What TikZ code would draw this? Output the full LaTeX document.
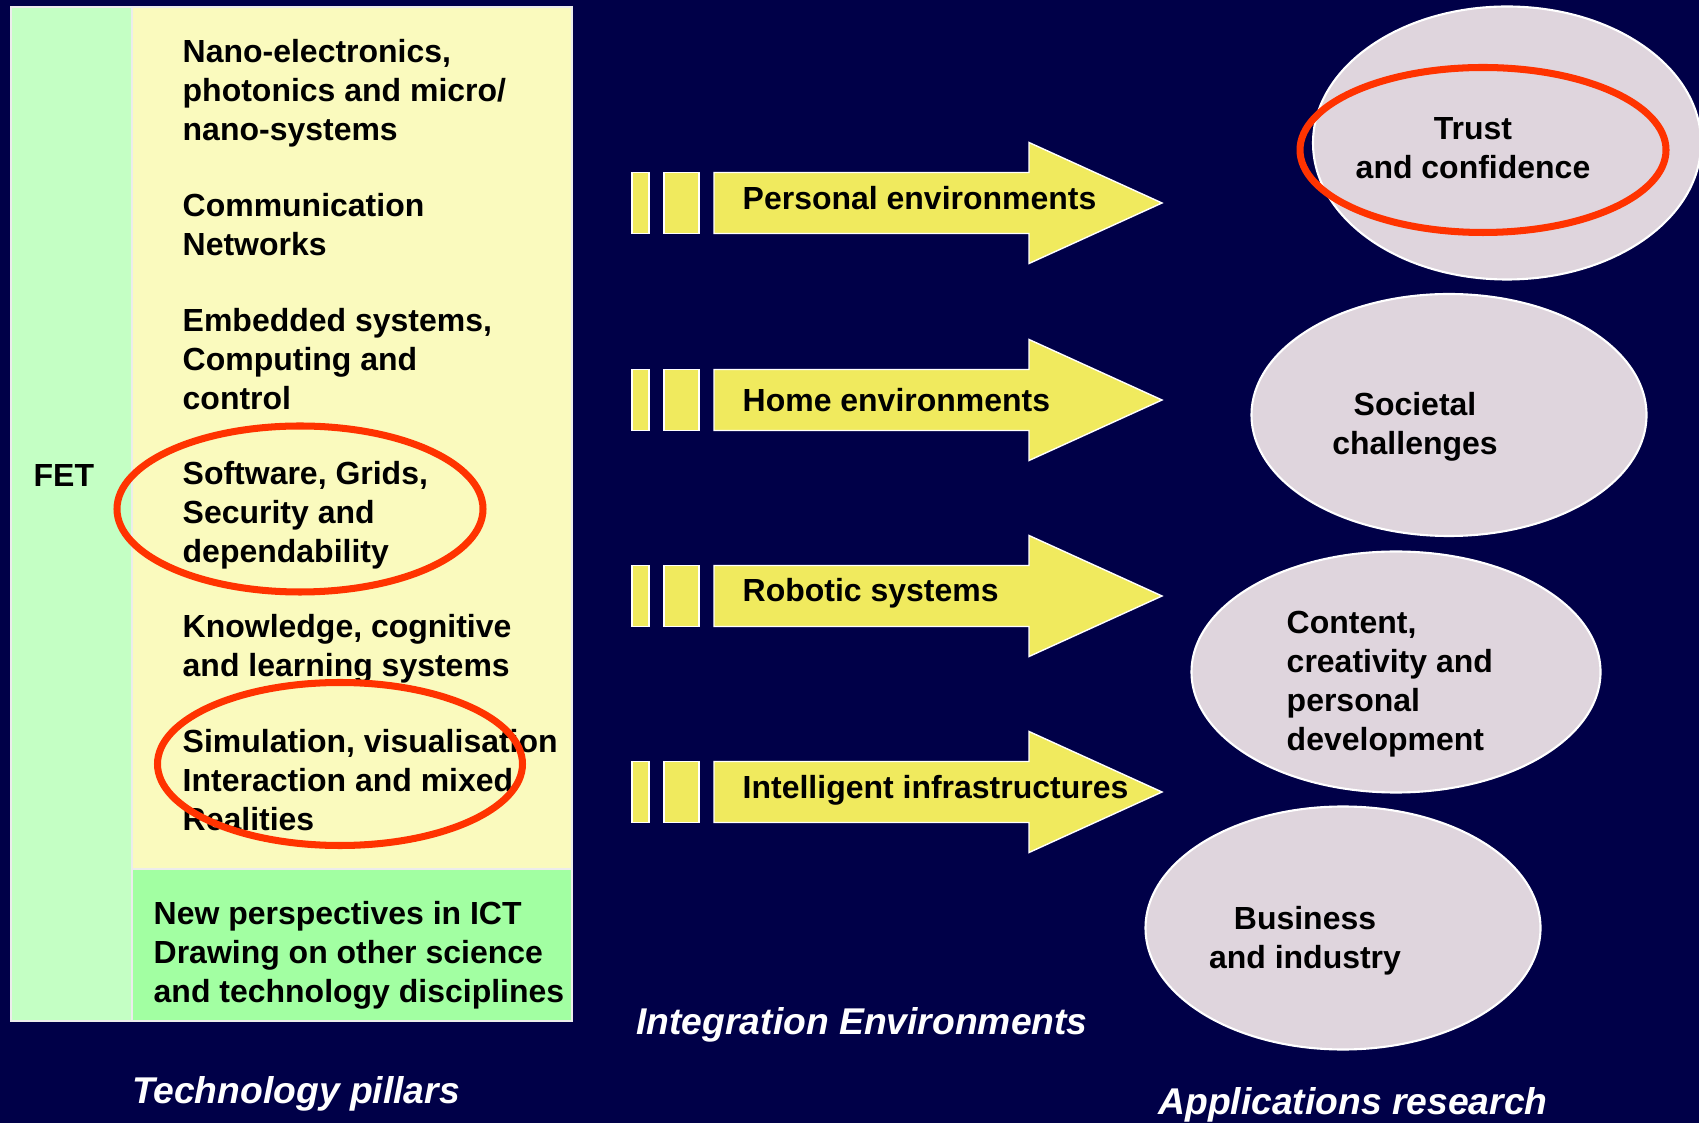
\documentclass[tikz,border=0pt]{standalone}
\usepackage{fontspec}
\setmainfont{Liberation Sans}
\usetikzlibrary{positioning,shapes.geometric}
\definecolor{navy}{HTML}{000048}
\definecolor{pillarbg}{HTML}{FAFABE}
\definecolor{fetbg}{HTML}{C4FFC4}
\definecolor{newbg}{HTML}{A2FFA2}
\definecolor{arrowfill}{HTML}{F0EA5E}
\definecolor{appbg}{HTML}{DFD5DD}
\definecolor{ringred}{HTML}{FF3300}
\tikzset{
  colbox/.style={draw=white!85!gray,line width=0.5pt,anchor=north west,
                 inner sep=0pt,outer sep=0pt},
  pillartext/.style={anchor=west,align=left,inner sep=0pt,
                     font=\fontsize{9.1}{11.1}\selectfont\bfseries},
  envbar/.style={fill=arrowfill,draw=white,line width=0.4pt},
  envlabel/.style={anchor=west,inner sep=0pt,
                   font=\fontsize{9.1}{11.1}\selectfont\bfseries},
  appoval/.style={ellipse,draw=white,line width=0.6pt,fill=appbg,inner sep=0pt},
  apptext/.style={inner sep=0pt,font=\fontsize{9.1}{11.1}\selectfont\bfseries},
  redring/.style={ellipse,draw=ringred,line width=2pt,inner sep=0pt},
  caption/.style={inner sep=0pt,text=white,
                  font=\fontsize{10.6}{12.7}\selectfont\bfseries\itshape}
}
\begin{document}
\begin{tikzpicture}[x=0.1mm,y=-0.1mm]
  \useasboundingbox (0,0) rectangle (1699,1123);
  \fill[navy] (0,0) rectangle (1699,1123);

  % technology pillars
  \node[colbox,fill=fetbg,minimum width=1.21cm,minimum height=10.14cm] (fetcol) at (11,7) {};
  \node[colbox,fill=pillarbg,minimum width=4.40cm,minimum height=8.62cm] (pillars) at (132,7) {};
  \node[colbox,fill=newbg,minimum width=4.40cm,minimum height=1.52cm] (newpersp) at (132,869) {};

  \node[pillartext] (fet) at (33,476) {FET};
  \node[pillartext] (nano) at (182,93) {Nano-electronics,\\photonics and micro/\\nano-systems};
  \node[pillartext] (comm) at (182,225) {Communication\\Networks};
  \node[pillartext] (embed) at (182,359) {Embedded systems,\\Computing and\\control};
  \node[pillartext] (soft) at (182,515) {Software, Grids,\\Security and\\dependability};
  \node[pillartext] (know) at (182,649) {Knowledge, cognitive\\and learning systems};
  \node[pillartext] (simu) at (182,780) {Simulation, visualisation\\Interaction and mixed\\Realities};
  \node[pillartext] (newtxt) at (153,955) {New perspectives in ICT\\Drawing on other science\\and technology disciplines};

  % integration environments
  \foreach \cy/\ly/\name/\txt in {203/198/pers/Personal environments,
                                  400/400/home/Home environments,
                                  596/593/robo/Robotic systems,
                                  792/790/infra/Intelligent infrastructures} {
    \draw[envbar] (632,\cy-30.5) rectangle (649,\cy+30.5);
    \draw[envbar] (664,\cy-30.5) rectangle (699,\cy+30.5);
    \draw[envbar] (714,\cy-30.5) -- (1029,\cy-30.5) -- (1029,\cy-60.5) -- (1162,\cy)
      -- (1029,\cy+60.5) -- (1029,\cy+30.5) -- (714,\cy+30.5) -- cycle;
    \node[envlabel] (\name) at (742,\ly) {\txt};
  }

  % applications research
  \node[appoval,minimum width=3.88cm,minimum height=2.73cm] (trust) at (1507,143) {};
  \node[appoval,minimum width=3.95cm,minimum height=2.42cm] (soc) at (1449,415) {};
  \node[appoval,minimum width=4.09cm,minimum height=2.41cm] (cont) at (1396,672) {};
  \node[appoval,minimum width=3.95cm,minimum height=2.43cm] (bus) at (1343,928) {};

  \node[apptext,align=center] (trusttxt) at (1473,148) {Trust\\and confidence};
  \node[apptext,align=center] (soctxt) at (1415,427) {Societal\\challenges};
  \node[apptext,align=left,anchor=west] (conttxt) at (1286,684) {Content,\\creativity and\\personal\\development};
  \node[apptext,align=center] (bustxt) at (1305,941) {Business\\and industry};

  % highlight rings
  \node[redring,minimum width=3.66cm,minimum height=1.65cm] (ringtrust) at (1483,150) {};
  \node[redring,minimum width=3.66cm,minimum height=1.66cm] (ringsoft) at (300,509) {};
  \node[redring,minimum width=3.65cm,minimum height=1.63cm] (ringsimu) at (340,764) {};

  \node[caption] (techcap) at (296,1094) {Technology pillars};
  \node[caption] (envcap) at (862,1025) {Integration Environments};
  \node[caption] (appcap) at (1353,1105) {Applications research};
\end{tikzpicture}
\end{document}
